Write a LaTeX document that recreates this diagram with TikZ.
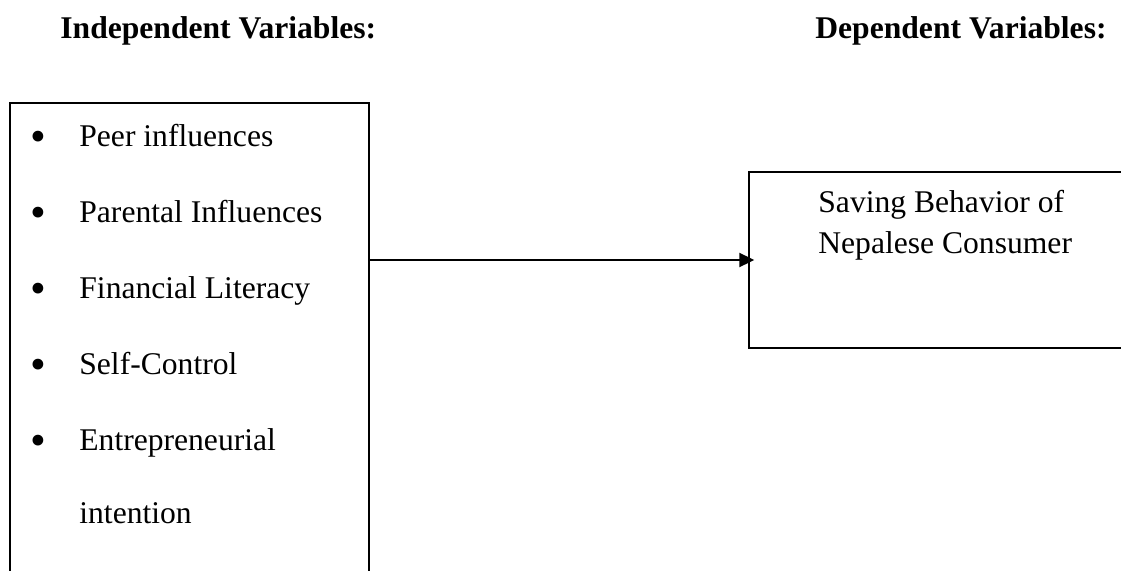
\documentclass[tikz,border=0pt]{standalone}
\usepackage{fontspec}
\setmainfont{Liberation Serif}
\usetikzlibrary{arrows.meta}

\begin{document}
\begin{tikzpicture}[x=0.5pt,y=0.5pt,
    box/.style={draw, line width=0.7pt, inner sep=0pt},
    item/.style={anchor=base west, inner sep=0pt, font=\fontsize{15.8}{20}\selectfont},
    dot/.style={anchor=base, inner sep=0pt, font=\fontsize{22.5}{24}\selectfont},
    head/.style={anchor=base west, inner sep=0pt, font=\fontsize{15.8}{20}\selectfont\bfseries}]
    \useasboundingbox (0,0) rectangle (1121,570);
    \clip (0,0) rectangle (1121,570);
    % headings
    \node[head] (hindep) at (60,532) {Independent Variables:};
    \node[head] (hdep) at (815,532) {Dependent Variables:};
    % boxes
    \node[box, minimum width=179.5pt, minimum height=248.5pt] (indep) at (189.5,218.5) {};
    \node[box, minimum width=195.5pt, minimum height=88pt] (dep) at (944.5,310) {};
    % list of independent variables
    \foreach \t [count=\i] in {Peer influences,Parental Influences,Financial Literacy,Self-Control,Entrepreneurial}
    {
      \node[dot] (dot\i) at (38,495-76*\i) {•};
      \node[item] (var\i) at (79,500-76*\i) {\t};
    }
    \node[item] (var6) at (79,47) {intention};
    % dependent variable
    \node[item] (dvar1) at (818,358) {Saving Behavior of};
    \node[item] (dvar2) at (818,317) {Nepalese Consumer};
    \draw[line width=1pt, -{Triangle[length=7.5pt,width=7pt]}, shorten >=-3pt] (indep.east |- dep.west) -- (dep.west);
\end{tikzpicture}
\end{document}
